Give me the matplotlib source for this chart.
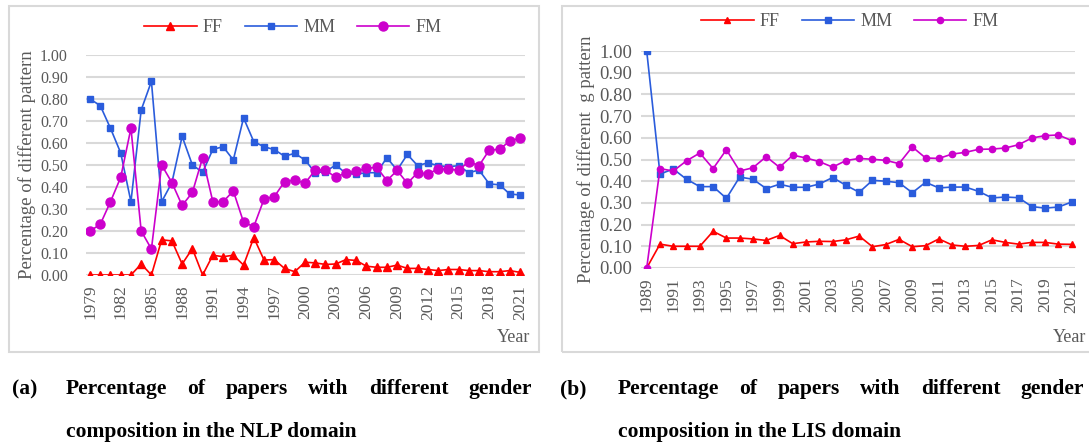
# Gender composition of co-authored papers: NLP vs LIS domain
import matplotlib
matplotlib.use('Agg')
import matplotlib.pyplot as plt
from matplotlib.patches import Rectangle

# ==================== DATA ====================
NLP_YEARS = list(range(1979, 2022))
NLP_FF = [0, 0, 0, 0, 0, 0.05, 0, 0.16, 0.155, 0.05,
          0.12, 0, 0.09, 0.083, 0.09, 0.045, 0.17, 0.068, 0.07, 0.03,
          0.015, 0.058, 0.055, 0.048, 0.05, 0.07, 0.066, 0.04, 0.035, 0.035,
          0.045, 0.03, 0.03, 0.025, 0.02, 0.025, 0.025, 0.02, 0.02, 0.015,
          0.015, 0.02, 0.012]
NLP_MM = [0.80, 0.77, 0.667, 0.555, 0.333, 0.75, 0.88, 0.333, 0.42, 0.63,
          0.50, 0.467, 0.571, 0.583, 0.523, 0.714, 0.606, 0.583, 0.57, 0.54,
          0.553, 0.523, 0.465, 0.47, 0.50, 0.462, 0.458, 0.465, 0.465, 0.533,
          0.477, 0.548, 0.497, 0.51, 0.497, 0.492, 0.497, 0.465, 0.477, 0.414,
          0.41, 0.368, 0.364]
NLP_FM = [0.20, 0.23, 0.333, 0.444, 0.667, 0.20, 0.118, 0.50, 0.42, 0.316,
          0.375, 0.533, 0.333, 0.333, 0.382, 0.24, 0.22, 0.345, 0.356, 0.424,
          0.432, 0.417, 0.477, 0.477, 0.444, 0.465, 0.471, 0.485, 0.49, 0.429,
          0.475, 0.417, 0.465, 0.459, 0.482, 0.48, 0.477, 0.515, 0.497, 0.568,
          0.571, 0.609, 0.622]

LIS_YEARS = list(range(1989, 2022))
LIS_FF = [0, 0.11, 0.10, 0.10, 0.10, 0.169, 0.138, 0.138, 0.134, 0.127,
          0.15, 0.112, 0.12, 0.123, 0.122, 0.13, 0.147, 0.098, 0.108, 0.132,
          0.098, 0.103, 0.134, 0.106, 0.10, 0.104, 0.13, 0.118, 0.11, 0.118,
          0.118, 0.11, 0.109]
LIS_MM = [1.00, 0.433, 0.456, 0.409, 0.375, 0.375, 0.321, 0.419, 0.409, 0.366,
          0.386, 0.372, 0.372, 0.387, 0.417, 0.381, 0.349, 0.404, 0.40, 0.393,
          0.347, 0.395, 0.369, 0.373, 0.373, 0.353, 0.323, 0.327, 0.324, 0.283,
          0.276, 0.281, 0.304]
LIS_FM = [0, 0.458, 0.447, 0.494, 0.53, 0.458, 0.545, 0.447, 0.462, 0.513,
          0.464, 0.52, 0.507, 0.49, 0.465, 0.495, 0.505, 0.501, 0.496, 0.481,
          0.558, 0.507, 0.505, 0.525, 0.533, 0.547, 0.548, 0.553, 0.568, 0.599,
          0.61, 0.613, 0.587]

Y_TICKS = [0.0, 0.1, 0.2, 0.3, 0.4, 0.5, 0.6, 0.7, 0.8, 0.9, 1.0]

CAPTION_A = ['Percentage', 'of', 'papers', 'with', 'different', 'gender']
CAPTION_B = ['Percentage', 'of', 'papers', 'with', 'different', 'gender']
# ===============================================

RED = '#ff0000'
BLUE = '#2a5cdc'
MAGENTA = '#cc00cc'
GRID = '#d9d9d9'
TEXT = '#595959'
SERIF = ['Liberation Serif', 'DejaVu Serif']
plt.rcParams['font.family'] = SERIF

W, H = 1089, 443
fig = plt.figure(figsize=(W / 100, H / 100), dpi=100)


def px_box(x0, y0, x1, y1):
    """pixel box (top-left origin) -> figure fraction [l, b, w, h]"""
    return [x0 / W, 1 - y1 / H, (x1 - x0) / W, (y1 - y0) / H]


def draw_panel(box, years, ff, mm, fm, xlim, step, ylabel, ms, ytick_size, ypad,
               legend_xy, year_xy):
    ax = fig.add_axes(px_box(*box))
    ax.plot(years, ff, color=RED, lw=1.2, marker='^', ms=ms[0], label='FF')
    ax.plot(years, mm, color=BLUE, lw=1.2, marker='s', ms=ms[1], label='MM')
    ax.plot(years, fm, color=MAGENTA, lw=1.2, marker='o', ms=ms[2], label='FM')

    ax.set_xlim(*xlim)
    ax.set_ylim(0, 1.0)
    ax.set_yticks(Y_TICKS)
    ax.set_yticklabels([f'{v:.2f}' for v in Y_TICKS], fontsize=ytick_size,
                       color=TEXT)
    xt = years[::step]
    ax.set_xticks(xt)
    ax.set_xticklabels([str(y) for y in xt], rotation=90, fontsize=12.5,
                       color=TEXT)
    ax.tick_params(axis='y', length=0, pad=ypad)
    ax.tick_params(axis='x', length=0, pad=7)
    ax.grid(axis='y', color=GRID, lw=1.5)
    ax.set_axisbelow(True)
    for s in ax.spines.values():
        s.set_visible(False)

    ax.set_ylabel(ylabel, fontsize=13.5, color=TEXT, labelpad=3)

    fig.text(year_xy[0] / W, 1 - year_xy[1] / H, 'Year', fontsize=13,
             color=TEXT, ha='center', va='center')

    ax.legend(loc='center', bbox_to_anchor=(legend_xy[0] / W, 1 - legend_xy[1] / H),
              bbox_transform=fig.transFigure, ncol=3, frameon=False,
              prop={'size': 13}, labelcolor=TEXT,
              handlelength=2.9, handletextpad=0.35, columnspacing=1.2)
    return ax


# panel frames
for x0, x1 in [(9, 539), (562, 1095)]:
    fig.patches.append(Rectangle((x0 / W, 1 - 352 / H), (x1 - x0) / W, 346 / H,
                                 transform=fig.transFigure, fill=False,
                                 ec=GRID, lw=1.5))

draw_panel((86, 55, 525, 275), NLP_YEARS, NLP_FF, NLP_MM, NLP_FM,
           (1978.61, 2021.49), 3, 'Percentage of different pattern',
           (6, 5, 6.5), 11.5, 13, (293, 28), (514, 337))
draw_panel((641, 51, 1075, 268), LIS_YEARS, LIS_FF, LIS_MM, LIS_FM,
           (1988.57, 2021.25), 2, 'Percentage of different  g pattern',
           (5, 5, 4.5), 13.5, 6.5, (850, 22), (1070, 337))

# captions: first line justified between two x positions (pixels)
cap_font = dict(fontsize=15.5, fontweight='bold', color='black', va='center')
renderer = fig.canvas.get_renderer()


def justify(words, x0, x1, y):
    texts = [fig.text(0, 0, w, **cap_font) for w in words]
    widths = [t.get_window_extent(renderer).width for t in texts]
    gap = (x1 - x0 - sum(widths)) / (len(words) - 1)
    x = x0
    for t, w in zip(texts, widths):
        t.set_position((x / W, 1 - y / H))
        x += w + gap


fig.text(12 / W, 1 - 389 / H, '(a)', **cap_font)
justify(CAPTION_A, 66, 532, 389)
fig.text(66 / W, 1 - 432 / H, 'composition in the NLP domain', **cap_font)

fig.text(560 / W, 1 - 389 / H, '(b)', **cap_font)
justify(CAPTION_B, 618, 1084, 389)
fig.text(618 / W, 1 - 432 / H, 'composition in the LIS domain', **cap_font)

fig.savefig('out.png', dpi=100)
